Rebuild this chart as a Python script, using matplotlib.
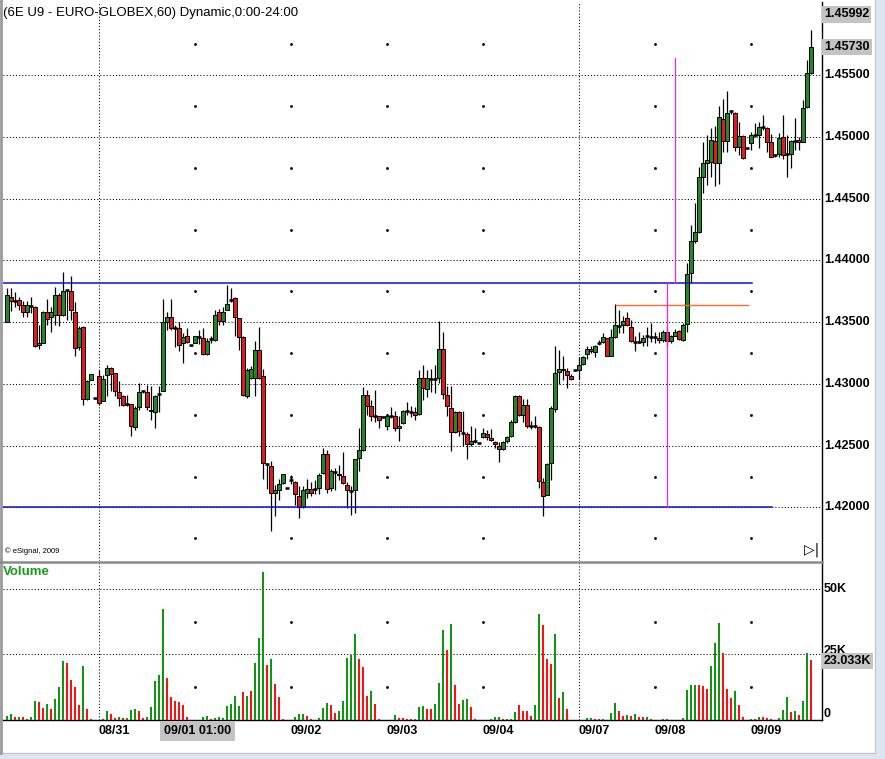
import matplotlib
matplotlib.use("Agg")
import matplotlib.pyplot as plt
import matplotlib.transforms as mtransforms
from matplotlib.patches import Rectangle
from matplotlib.lines import Line2D

plt.rcParams['font.family'] = ['Liberation Sans', 'DejaVu Sans']

# ---- data (60 min bars, 6E U9) ----
opens = [
    1.43506, 1.43708, 1.43678, 1.43681, 1.43641, 1.43587, 1.43630, 1.43627, 1.43315, 1.43336,
    1.43579, 1.43541, 1.43560, 1.43722, 1.43560, 1.43762, 1.43754, 1.43581, 1.43299, 1.43460,
    1.42878, 1.43029, 1.42884, 1.43061, 1.42859, 1.43070, 1.43126, 1.43088, 1.42935, 1.42900,
    1.42838, 1.42838, 1.42652, 1.42811, 1.42940, 1.42935, 1.42792, 1.42771, 1.42916, 1.42940,
    1.43503, 1.43546, 1.43457, 1.43457, 1.43331, 1.43385, 1.43312, 1.43331, 1.43379, 1.43371,
    1.43245, 1.43366, 1.43355, 1.43579, 1.43514, 1.43600, 1.43681, 1.43700, 1.43533, 1.43377,
    1.42900, 1.43048, 1.43048, 1.43277, 1.43064, 1.42350, 1.42339, 1.42119, 1.42145, 1.42199,
    1.42156, 1.42226, 1.42207, 1.42092, 1.42005, 1.42119, 1.42151, 1.42151, 1.42159, 1.42280,
    1.42434, 1.42159, 1.42286, 1.42275, 1.42253, 1.42186, 1.42137, 1.42140, 1.42401, 1.42469,
    1.42913, 1.42824, 1.42738, 1.42738, 1.42735, 1.42657, 1.42744, 1.42744, 1.42644, 1.42684,
    1.42779, 1.42771, 1.42773, 1.42757, 1.43048, 1.42959, 1.43043, 1.43043, 1.43048, 1.43282,
    1.42913, 1.42806, 1.42612, 1.42771, 1.42603, 1.42595, 1.42515, 1.42536, 1.42523, 1.42568,
    1.42598, 1.42563, 1.42528, 1.42496, 1.42474, 1.42536, 1.42577, 1.42692, 1.42905, 1.42746,
    1.42830, 1.42663, 1.42657, 1.42649, 1.42207, 1.42105, 1.42361, 1.42797, 1.43094, 1.43121,
    1.43107, 1.43067, 1.43110, 1.43110, 1.43161, 1.43245, 1.43282, 1.43256, 1.43336, 1.43344,
    1.43371, 1.43229, 1.43379, 1.43466, 1.43479, 1.43533, 1.43460, 1.43344, 1.43344, 1.43344,
    1.43385, 1.43379, 1.43377, 1.43371, 1.43358, 1.43420, 1.43352, 1.43390, 1.43433, 1.43358,
    1.43485, 1.43897, 1.44161, 1.44234, 1.44678, 1.44791, 1.44799, 1.44966, 1.44786, 1.45142,
    1.44969, 1.45212, 1.45198, 1.44915, 1.45007, 1.44907, 1.44953, 1.45018, 1.45020, 1.45082,
    1.45069, 1.44956, 1.44853, 1.44861, 1.44996, 1.44859, 1.44866, 1.44969, 1.44974, 1.44961,
    1.45244, 1.45521,
]
highs = [
    1.43775, 1.43775, 1.43743, 1.43703, 1.43676, 1.43676, 1.43708, 1.43633, 1.43474, 1.43595,
    1.43686, 1.43627, 1.43783, 1.43735, 1.43910, 1.43765, 1.43878, 1.43662, 1.43466, 1.43466,
    1.43035, 1.43080, 1.42886, 1.43115, 1.43075, 1.43153, 1.43137, 1.43088, 1.43021, 1.42913,
    1.42913, 1.42838, 1.42819, 1.43008, 1.42954, 1.42994, 1.42981, 1.42913, 1.42981, 1.43686,
    1.43579, 1.43686, 1.43479, 1.43498, 1.43412, 1.43452, 1.43314, 1.43385, 1.43439, 1.43452,
    1.43371, 1.43390, 1.43600, 1.43606, 1.43627, 1.43802, 1.43775, 1.43708, 1.43538, 1.43390,
    1.43129, 1.43142, 1.43352, 1.43460, 1.43121, 1.42361, 1.42380, 1.42186, 1.42232, 1.42275,
    1.42158, 1.42267, 1.42213, 1.42172, 1.42172, 1.42232, 1.42205, 1.42226, 1.42280, 1.42482,
    1.42469, 1.42313, 1.42321, 1.42348, 1.42447, 1.42205, 1.42178, 1.42393, 1.42644, 1.42975,
    1.42948, 1.42867, 1.42948, 1.42738, 1.42737, 1.42760, 1.42814, 1.42779, 1.42738, 1.42792,
    1.42854, 1.42824, 1.42814, 1.43115, 1.43156, 1.43110, 1.43121, 1.43156, 1.43511, 1.43425,
    1.42981, 1.42981, 1.42779, 1.42784, 1.42779, 1.42609, 1.42657, 1.42644, 1.42525, 1.42644,
    1.42630, 1.42638, 1.42536, 1.42528, 1.42536, 1.42577, 1.42711, 1.42913, 1.42913, 1.42878,
    1.42878, 1.42698, 1.42738, 1.42663, 1.42240, 1.42361, 1.42819, 1.43309, 1.43277, 1.43223,
    1.43129, 1.43080, 1.43112, 1.43215, 1.43229, 1.43309, 1.43304, 1.43317, 1.43358, 1.43412,
    1.43371, 1.43444, 1.43646, 1.43600, 1.43552, 1.43587, 1.43520, 1.43385, 1.43425, 1.43398,
    1.43460, 1.43493, 1.43425, 1.43425, 1.43439, 1.43466, 1.43398, 1.43444, 1.43439, 1.43493,
    1.43983, 1.44287, 1.44463, 1.44759, 1.44961, 1.45015, 1.45069, 1.45088, 1.45249, 1.45311,
    1.45371, 1.45222, 1.45203, 1.45123, 1.45015, 1.44909, 1.45042, 1.45115, 1.45123, 1.45182,
    1.45077, 1.45028, 1.44866, 1.45034, 1.45177, 1.45015, 1.44974, 1.45150, 1.45001, 1.45298,
    1.45621, 1.45864,
]
lows = [
    1.43498, 1.43595, 1.43627, 1.43600, 1.43546, 1.43546, 1.43573, 1.43299, 1.43282, 1.43331,
    1.43479, 1.43417, 1.43479, 1.43466, 1.43552, 1.43519, 1.43519, 1.43223, 1.43277, 1.42832,
    1.42867, 1.43029, 1.42882, 1.42832, 1.42859, 1.42900, 1.42940, 1.42900, 1.42819, 1.42819,
    1.42819, 1.42577, 1.42630, 1.42792, 1.42927, 1.42792, 1.42711, 1.42644, 1.42771, 1.42940,
    1.43439, 1.43439, 1.43299, 1.43264, 1.43169, 1.43331, 1.43310, 1.43331, 1.43325, 1.43237,
    1.43237, 1.43331, 1.43350, 1.43479, 1.43479, 1.43600, 1.43668, 1.43385, 1.43277, 1.42905,
    1.42886, 1.43043, 1.42905, 1.43040, 1.42232, 1.42151, 1.41810, 1.41930, 1.42059, 1.42194,
    1.42154, 1.42194, 1.42024, 1.41916, 1.41997, 1.42078, 1.42092, 1.42113, 1.42113, 1.42275,
    1.42119, 1.42132, 1.42145, 1.42226, 1.42194, 1.41997, 1.41943, 1.41957, 1.42294, 1.42455,
    1.42752, 1.42698, 1.42690, 1.42644, 1.42733, 1.42625, 1.42725, 1.42617, 1.42536, 1.42679,
    1.42752, 1.42733, 1.42706, 1.42752, 1.42873, 1.42894, 1.42932, 1.42927, 1.43008, 1.42878,
    1.42738, 1.42455, 1.42603, 1.42577, 1.42496, 1.42393, 1.42496, 1.42523, 1.42521, 1.42563,
    1.42550, 1.42536, 1.42482, 1.42366, 1.42469, 1.42523, 1.42571, 1.42684, 1.42738, 1.42690,
    1.42644, 1.42636, 1.42644, 1.42156, 1.41930, 1.42100, 1.42226, 1.42771, 1.43002, 1.43035,
    1.42967, 1.43029, 1.43108, 1.43043, 1.43156, 1.43202, 1.43250, 1.43215, 1.43317, 1.43336,
    1.43223, 1.43223, 1.43371, 1.43412, 1.43412, 1.43466, 1.43344, 1.43264, 1.43331, 1.43304,
    1.43304, 1.43344, 1.43331, 1.43331, 1.43344, 1.43304, 1.43336, 1.43385, 1.43358, 1.43352,
    1.43425, 1.43816, 1.44145, 1.44220, 1.44549, 1.44611, 1.44673, 1.44603, 1.44619, 1.44880,
    1.44880, 1.45190, 1.44888, 1.44853, 1.44818, 1.44905, 1.44894, 1.45002, 1.44907, 1.45055,
    1.44880, 1.44840, 1.44840, 1.44835, 1.44818, 1.44678, 1.44745, 1.44894, 1.44894, 1.44961,
    1.45238, 1.45508,
]
closes = [
    1.43722, 1.43676, 1.43676, 1.43641, 1.43587, 1.43641, 1.43630, 1.43309, 1.43336, 1.43587,
    1.43525, 1.43579, 1.43722, 1.43560, 1.43754, 1.43762, 1.43600, 1.43290, 1.43452, 1.42878,
    1.43021, 1.43080, 1.42884, 1.42846, 1.43043, 1.43126, 1.43083, 1.42940, 1.42886, 1.42827,
    1.42838, 1.42657, 1.42806, 1.42935, 1.42940, 1.42811, 1.42779, 1.42905, 1.42916, 1.43501,
    1.43541, 1.43452, 1.43457, 1.43317, 1.43379, 1.43344, 1.43312, 1.43385, 1.43379, 1.43245,
    1.43350, 1.43366, 1.43560, 1.43514, 1.43587, 1.43646, 1.43681, 1.43541, 1.43377, 1.42913,
    1.43115, 1.43123, 1.43277, 1.43048, 1.42361, 1.42350, 1.42119, 1.42145, 1.42194, 1.42275,
    1.42156, 1.42226, 1.42110, 1.42005, 1.42140, 1.42151, 1.42119, 1.42151, 1.42267, 1.42434,
    1.42151, 1.42294, 1.42286, 1.42267, 1.42199, 1.42145, 1.42137, 1.42393, 1.42469, 1.42913,
    1.42824, 1.42738, 1.42738, 1.42706, 1.42735, 1.42738, 1.42744, 1.42644, 1.42663, 1.42784,
    1.42779, 1.42771, 1.42746, 1.43048, 1.42967, 1.43048, 1.43043, 1.43043, 1.43282, 1.42919,
    1.42819, 1.42612, 1.42771, 1.42617, 1.42603, 1.42515, 1.42542, 1.42536, 1.42523, 1.42603,
    1.42571, 1.42550, 1.42515, 1.42474, 1.42531, 1.42571, 1.42692, 1.42905, 1.42746, 1.42830,
    1.42657, 1.42663, 1.42657, 1.42213, 1.42092, 1.42353, 1.42806, 1.43088, 1.43121, 1.43110,
    1.43070, 1.43040, 1.43110, 1.43150, 1.43218, 1.43282, 1.43264, 1.43304, 1.43336, 1.43379,
    1.43229, 1.43379, 1.43479, 1.43466, 1.43514, 1.43479, 1.43352, 1.43344, 1.43344, 1.43371,
    1.43385, 1.43379, 1.43377, 1.43358, 1.43420, 1.43352, 1.43390, 1.43425, 1.43366, 1.43479,
    1.43889, 1.44158, 1.44228, 1.44678, 1.44786, 1.44813, 1.44974, 1.44791, 1.45158, 1.44969,
    1.45198, 1.45212, 1.44915, 1.45007, 1.44826, 1.44907, 1.45015, 1.45018, 1.45077, 1.45082,
    1.44961, 1.44840, 1.44853, 1.44988, 1.44853, 1.44859, 1.44966, 1.44969, 1.44956, 1.45238,
    1.45521, 1.45730,
]
# volume in thousands, and its colour flag as drawn by eSignal
volumes = [
    1.7, 2.3, 1.3, 1.3, 1.3, 0.5, 1.3, 7.3, 6.9, 4.7,
    6.1, 4.2, 8.0, 12.6, 22.5, 21.8, 15.3, 12.6, 5.7, 20.6,
    4.2, 0.4, 0.1, 0.1, 0.5, 3.4, 2.3, 0.9, 1.3, 0.9,
    0.9, 3.8, 4.2, 3.6, 0.9, 1.3, 5.1, 15.0, 17.2, 42.4,
    16.2, 8.9, 7.3, 6.9, 5.7, 1.3, 0.1, 0.1, 0.1, 1.3,
    1.7, 0.5, 0.9, 1.3, 0.9, 5.5, 6.2, 9.2, 5.5, 10.7,
    9.2, 11.1, 21.8, 31.3, 56.5, 21.0, 23.3, 13.7, 8.9, 0.5,
    0.1, 0.1, 1.3, 2.3, 2.3, 1.7, 0.5, 0.1, 0.8, 4.7,
    6.5, 5.7, 2.7, 3.4, 7.3, 23.7, 24.8, 32.8, 23.3, 20.2,
    9.2, 11.1, 6.1, 0.5, 0.1, 0.1, 0.1, 1.9, 0.9, 0.9,
    0.4, 0.4, 0.4, 5.0, 5.3, 4.2, 4.2, 6.1, 14.1, 34.4,
    26.7, 36.6, 13.4, 6.1, 7.6, 8.0, 5.0, 0.4, 0.1, 0.1,
    0.1, 0.4, 1.1, 1.1, 0.4, 0.4, 0.4, 3.1, 5.7, 3.4,
    3.4, 1.5, 5.7, 40.5, 36.3, 23.3, 21.4, 32.8, 8.4, 10.7,
    4.2, 0.1, 0.1, 0.1, 0.1, 0.8, 0.8, 0.4, 0.4, 0.4,
    0.1, 2.7, 6.5, 3.4, 1.5, 1.9, 1.5, 2.3, 1.1, 1.1,
    1.1, 0.4, 0.1, 0.1, 0.4, 0.4, 0.1, 0.1, 0.1, 0.8,
    11.5, 13.4, 13.4, 13.4, 13.0, 11.8, 20.6, 29.4, 37.0, 25.6,
    11.8, 8.4, 11.1, 5.7, 1.1, 0.1, 0.4, 0.4, 1.1, 1.1,
    0.8, 0.4, 0.1, 0.8, 3.8, 8.8, 3.1, 3.4, 1.9, 7.3,
    25.6, 23.033,
]
vol_flags = (
    "ggrgrrggrr" "grgggrrrrg" "rrrrrgrrgr" "gggrrggggg"
    "rrrrrrrrrg" "grgggggggr" "grgggrgrrr" "rrgggrrrgg"
    "grrgggggrr" "rgrrrrrgrr" "rrgggrrggg" "rgrrggrrrr"
    "rgggrgggrr" "rrggrrrgrg" "rrrrrggrrg" "rggrrgrgrr"
    "grrrggrrrg" "gggrrrgggr" "rrgrrrgrgr" "rrrgggrgrg"
    "gr"
)
days = ["08/31", "09/01", "09/02", "09/03", "09/04", "09/07", "09/08", "09/09"]
day_start = [23, 47, 71, 95, 119, 143, 162, 186]
week_start = [23, 143]
price_ticks = [1.420, 1.425, 1.430, 1.435, 1.440, 1.445, 1.450, 1.455]
vol_ticks = [25, 50]
upper_line = 1.43818
lower_line = 1.42004
orange_line = 1.43640

UP = '#1f8a1f'
DN = '#e31a1a'
VUP = '#0f960f'
VDN = '#ff1010'

W, H = 885, 759
fig = plt.figure(figsize=(W / 100, H / 100), dpi=100)
fig.patch.set_facecolor('#dce6f2')

# white window area and its border (behind the axes)
fig.patches.append(Rectangle((0, 1 - 753 / H), 875 / W, 753 / H, transform=fig.transFigure,
                             facecolor='white', edgecolor='none', zorder=-5))
fig.lines.append(Line2D([875 / W, 875 / W], [1 - 753 / H, 1], transform=fig.transFigure,
                       color='#c8c8c8', lw=1, zorder=-4))
fig.lines.append(Line2D([0, 875 / W], [1 - 753 / H, 1 - 753 / H], transform=fig.transFigure,
                       color='#c8c8c8', lw=1, zorder=-4))
fig.lines.append(Line2D([1 / W, 1 / W], [1 - 753 / H, 1], transform=fig.transFigure,
                       color='#9a9a9a', lw=2, zorder=-4))


def px_axes(x0, y0, x1, y1):
    return fig.add_axes([x0 / W, 1 - y1 / H, (x1 - x0) / W, (y1 - y0) / H])


ax = px_axes(3, 2, 822, 561)
vax = px_axes(3, 563, 822, 720)

n = len(closes)
xs = list(range(n))
xlim = (-1, 203.75)
dot = (0, (1, 2))
grid_kw = dict(color='black', lw=0.75, linestyle=dot, zorder=1)

for a in (ax, vax):
    a.set_xlim(*xlim)
    a.set_facecolor('none')
    a.set_xticks([])
    a.set_yticks([])
    for s in ('left', 'top'):
        a.spines[s].set_visible(False)
    a.spines['right'].set_color('black')
    a.spines['right'].set_linewidth(1)
    for d in week_start:
        a.axvline(d, **grid_kw)

# ---- price panel ----
ax.set_ylim(1.415668, 1.460931)
ax.spines['bottom'].set_visible(False)
for p in price_ticks:
    ax.axhline(p, **grid_kw)
minor_x = [d for d in day_start if d not in week_start]
half_levels = [p + 0.0025 for p in price_ticks] + [price_ticks[0] - 0.0025]
for d in minor_x:
    ax.plot([d] * len(half_levels), half_levels, linestyle='none', marker='s',
            markersize=0.9, color='black', zorder=1)

ax.vlines(xs, lows, highs, color='black', lw=0.9, zorder=3)
for i in xs:
    o, c = opens[i], closes[i]
    if abs(c - o) < 0.00004:
        ax.hlines(c, i - 0.42, i + 0.42, color='black', lw=1.8, zorder=4)
    else:
        ax.bar(i, abs(c - o), bottom=min(o, c), width=0.82,
               color=UP if c > o else DN, edgecolor='black', linewidth=0.7, zorder=4)

# drawing-tool lines
ax.plot([xlim[0], 186.25], [upper_line, upper_line], color='#1010d0', lw=1.1, zorder=5)
ax.plot([xlim[0], 191.25], [lower_line, lower_line], color='#1010d0', lw=1.1, zorder=5)
ax.plot([152.25, 185.25], [orange_line, orange_line], color='#ff6a2a', lw=1.0, zorder=5)
ax.plot([167.1, 167.1], [1.45640, upper_line], color='#f020f0', lw=0.9, zorder=5)
ax.plot([165.1, 165.1], [upper_line, lower_line], color='#f020f0', lw=0.9, zorder=5)

ytr = mtransforms.blended_transform_factory(ax.transAxes, ax.transData)
lab_x = 1 + 2 / 819
for p in price_ticks:
    ax.text(lab_x, p, f"{p:.5f}", transform=ytr, ha='left', va='center',
            fontsize=9, fontweight='bold', clip_on=False)
for p in (1.45992, closes[-1]):
    ax.text(lab_x, p, f"{p:.5f}", transform=ytr, ha='left', va='center',
            fontsize=9, fontweight='bold', clip_on=False,
            bbox=dict(boxstyle='square,pad=0.18', facecolor='#c3c3c3', edgecolor='none'))

fig.text(3 / W, 1 - 13 / H, "(6E U9 - EURO-GLOBEX,60) Dynamic,0:00-24:00",
         ha='left', va='center', fontsize=9.5)
fig.text(5 / W, 1 - 551 / H, "\u00a9 eSignal, 2009", ha='left', va='center', fontsize=5.5)
fig.text(812 / W, 1 - 550 / H, "\u25b7|", ha='center', va='center', fontsize=10,
         family='DejaVu Sans')

# panel separator
fig.lines.append(Line2D([0, 822 / W], [1 - 562 / H, 1 - 562 / H], transform=fig.transFigure,
                       color='#8a8a8a', lw=1.8))

# ---- volume panel ----
vax.set_ylim(0, 59.92)
vax.spines['bottom'].set_color('black')
vax.spines['bottom'].set_linewidth(1)
for v in vol_ticks:
    vax.axhline(v, **grid_kw)
for d in minor_x:
    vax.plot([d, d], [12.5, 37.5], linestyle='none', marker='s', markersize=0.9,
             color='black', zorder=1)
vcols = [VUP if f == 'g' else VDN for f in vol_flags]
vax.bar(xs, volumes, width=0.3, color=vcols, zorder=3)

vtr = mtransforms.blended_transform_factory(vax.transAxes, vax.transData)
vax.text(lab_x, 50, "50K", transform=vtr, ha='left', va='center', fontsize=9,
         fontweight='bold', clip_on=False)
vax.text(lab_x, 26.2, "25K", transform=vtr, ha='left', va='center', fontsize=9,
         fontweight='bold', clip_on=False)
vax.text(lab_x, 0, "0", transform=vtr, ha='left', va='bottom', fontsize=9,
         fontweight='bold', clip_on=False)
vax.text(lab_x, volumes[-1] - 0.6, f"{volumes[-1]:.3f}K", transform=vtr, ha='left',
         va='center', fontsize=9, fontweight='bold', clip_on=False, zorder=6,
         bbox=dict(boxstyle='square,pad=0.15', facecolor='#c3c3c3', edgecolor='none'))
fig.text(3 / W, 1 - 572 / H, "Volume", ha='left', va='center', fontsize=9.5,
         fontweight='bold', color='#1a9a1a')

# ---- date labels ----
xtr = mtransforms.blended_transform_factory(vax.transData, fig.transFigure)
for d, lab in zip(day_start, days):
    if lab == "09/01":
        continue
    vax.text(d - 0.1, 1 - 731 / H, lab, transform=xtr, ha='left', va='center',
             fontsize=9, fontweight='bold', clip_on=False)
vax.text(47.6, 1 - 731 / H, "09/01 01:00", transform=xtr, ha='center', va='center',
         fontsize=9, fontweight='bold', clip_on=False,
         bbox=dict(boxstyle='square,pad=0.3', facecolor='#c3c3c3', edgecolor='none'))

fig.savefig("out.png", dpi=100, facecolor=fig.get_facecolor())
